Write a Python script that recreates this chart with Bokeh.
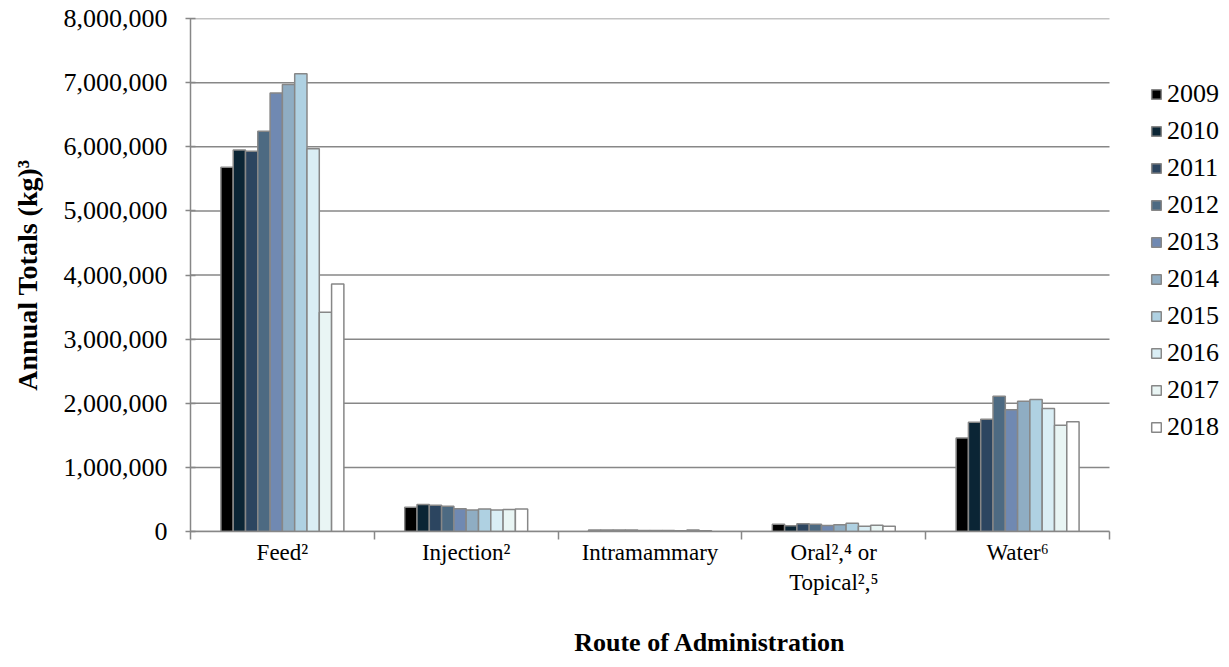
from bokeh.plotting import figure
from bokeh.models import (Range1d, FixedTicker, NumeralTickFormatter,
                          Legend, LegendItem, ColumnDataSource)
from bokeh.transform import dodge
from bokeh.embed import file_html
from bokeh.resources import INLINE

routes = ["Feed²", "Injection²", "Intramammary", "Oral²,⁴ or\nTopical²,⁵", "Water⁶"]
years = ["2009", "2010", "2011", "2012", "2013", "2014", "2015", "2016", "2017", "2018"]
feed = [5680000, 5950000, 5930000, 6240000, 6840000, 6970000, 7140000, 5970000, 3420000, 3860000]
injection = [380000, 420000, 410000, 395000, 355000, 335000, 350000, 335000, 345000, 350000]
intramammary = [24000, 25000, 24000, 22000, 14000, 14000, 14000, 13000, 24000, 13000]
oral_topical = [114000, 89000, 120000, 114000, 94000, 104000, 130000, 83000, 99000, 83000]
water = [1460000, 1705000, 1750000, 2110000, 1900000, 2030000, 2060000, 1920000, 1655000, 1710000]
colors = ["#000000", "#0b2535", "#2c4560", "#4d6a82", "#7089b2",
          "#8fadc3", "#afd1e2", "#daeef5", "#e9f5f4", "#ffffff"]
y_ticks = [0, 1000000, 2000000, 3000000, 4000000, 5000000, 6000000, 7000000, 8000000]

FONT = "Liberation Serif"
GRAY = "#878787"

W, H = 1229, 667
TOP, BOTTOM, LEFT = 18, 136, 190
PLOT_W = 919                      # width of the category area in px
n = len(routes)
x_end = n * (W - LEFT) / PLOT_W   # frame extends to the right edge; legend lives there

p = figure(width=W, height=H, output_backend="svg", toolbar_location=None,
           x_range=Range1d(0, x_end), y_range=Range1d(0, 8000000),
           min_border_left=LEFT, min_border_top=TOP, min_border_bottom=BOTTOM,
           min_border_right=0)
p.outline_line_color = None
p.background_fill_color = "white"

# horizontal gridlines limited to the category area
p.segment(x0=[0] * len(y_ticks), x1=[n] * len(y_ticks), y0=y_ticks, y1=y_ticks,
          line_color=GRAY, line_width=1.5)

bw = 0.0669
centers = [i + 0.5 for i in range(n)]
series = [feed, injection, intramammary, oral_topical, water]
items = []
for j, yr in enumerate(years):
    src = ColumnDataSource(dict(x=centers, top=[s[j] for s in series]))
    r = p.vbar(x=dodge("x", (j - (len(years) - 1) / 2) * bw), top="top", width=bw, bottom=0,
               source=src, fill_color=colors[j], line_color=GRAY, line_width=1.5)
    items.append(LegendItem(label=yr, renderers=[r]))

legend = Legend(items=items, location=(PLOT_W + 41, 87), margin=0, padding=0,
                glyph_width=12, glyph_height=12, label_standoff=5, label_height=34, spacing=3,
                label_text_font=FONT, label_text_font_size="26px", label_text_color="black",
                border_line_color=None, background_fill_alpha=0)
p.add_layout(legend, "center")

# y axis
p.yaxis.ticker = FixedTicker(ticks=y_ticks)
p.yaxis.formatter = NumeralTickFormatter(format="0,0")
p.yaxis.major_label_text_font = FONT
p.yaxis.major_label_text_font_size = "26px"
p.yaxis.major_label_text_color = "black"
p.yaxis.axis_line_color = GRAY
p.yaxis.axis_line_width = 1.5
p.yaxis.major_tick_line_color = GRAY
p.yaxis.major_tick_line_width = 1.5
p.yaxis.major_tick_in = 5
p.yaxis.major_tick_out = 5
p.yaxis.minor_tick_line_color = None
p.yaxis.major_label_standoff = 18
p.yaxis.axis_label = "Annual Totals (kg)³"
p.yaxis.axis_label_text_font = FONT
p.yaxis.axis_label_text_font_size = "28px"
p.yaxis.axis_label_text_font_style = "bold"
p.yaxis.axis_label_text_color = "black"
p.yaxis.axis_label_standoff = 18

# x axis
p.xaxis.bounds = (0, n)
p.xaxis.ticker = FixedTicker(ticks=centers, minor_ticks=list(range(n + 1)))
p.xaxis.major_label_overrides = {c: r for c, r in zip(centers, routes)}
p.xaxis.major_label_text_font = FONT
p.xaxis.major_label_text_font_size = "23px"
p.xaxis.major_label_text_color = "black"
p.xaxis.axis_line_color = GRAY
p.xaxis.axis_line_width = 1.5
p.xaxis.major_tick_in = 0
p.xaxis.major_tick_out = 0
p.xaxis.major_tick_line_color = None
p.xaxis.minor_tick_in = 0
p.xaxis.minor_tick_out = 8
p.xaxis.minor_tick_line_color = GRAY
p.xaxis.minor_tick_line_width = 1.5
p.xaxis.major_label_standoff = 0
p.xaxis.axis_label = "Route of Administration"
p.xaxis.axis_label_text_font = FONT
p.xaxis.axis_label_text_font_size = "26px"
p.xaxis.axis_label_text_font_style = "bold"
p.xaxis.axis_label_text_color = "black"
p.xaxis.axis_label_standoff = 30

p.xgrid.visible = False
p.ygrid.visible = False

open("out.html", "w").write(file_html(p, INLINE))
